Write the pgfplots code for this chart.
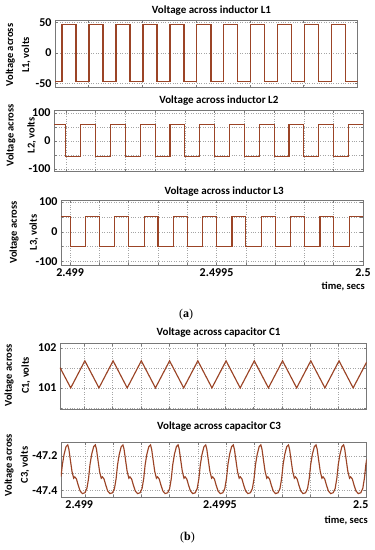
\documentclass[border=0pt]{standalone}
\usepackage{pgfplots}
\pgfplotsset{compat=1.18}
\usepackage{fontspec}
\setmainfont{Carlito}
\newfontfamily\seriffont{Liberation Serif}
\definecolor{wave}{RGB}{155,68,38}
\definecolor{framec}{RGB}{120,120,120}
\definecolor{gridc}{RGB}{165,165,165}
% x values: time in microseconds after t = 2.499 s (tick labels give the time in s)
\pgfplotsset{
  wv/.style={wave, line width=1.15pt, mark=none},
  panel/.style={
    scale only axis,
    anchor=south west,
    axis line style={framec, line width=0.6pt},
    grid=major,
    major grid style={gridc, dotted, line width=0.45pt},
    tick style={framec, line width=0.5pt},
    major tick length=2.5pt,
    tick align=inside,
    /pgf/number format/assume math mode=true,
    tick label style={font=\bfseries\fontsize{12}{13}\selectfont, text=black},
    title style={font=\bfseries\fontsize{11}{13}\selectfont, anchor=base, text=black},
    ylabel style={font=\bfseries\fontsize{10.5}{13}\selectfont, align=center, anchor=center, text=black},
    xlabel style={font=\bfseries\fontsize{10.5}{13}\selectfont, anchor=east, inner sep=0pt, text=black},
  }
}
\begin{document}
\begin{tikzpicture}
\useasboundingbox (0,0) rectangle (375pt,-550pt);

% ---------- L1 ----------
\begin{axis}[panel, at={(55pt,-87.3pt)}, width=302.7pt, height=67.3pt,
  xmin=-122, xmax=1000, ymin=-56, ymax=54,
  xtick={0,200,400,600,800,1000}, xticklabels={},
  ytick={-50,0,50},
  title={Voltage across inductor L1},
  title style={at={(axis description cs:0.517,1)}, yshift=0.5pt},
  ylabel={Voltage across\\[3pt]L1, volts},
  ylabel style={at={(axis description cs:-0.122,0.48)}},
]
\addplot[wv, const plot mark left] coordinates {
(-122,-46) (-96,47) (-44,-46) (4,47) (56,-46) (104,47) (156,-46) (204,47) (256,-46)
(304,47) (356,-46) (404,47) (456,-46) (504,47) (556,-46) (604,47) (656,-46) (704,47)
(756,-46) (804,47) (856,-46) (904,47) (956,-46) (1000,-46)};
\end{axis}

% ---------- L2 ----------
\begin{axis}[panel, at={(54pt,-171.7pt)}, width=309.3pt, height=61.7pt,
  xmin=-40, xmax=1000, ymin=-110, ymax=110,
  xtick={0,100,...,1000}, xticklabels={},
  ytick={-100,-50,0,50,100}, yticklabels={-100,,0,,100},
  title={Voltage across inductor L2},
  title style={at={(axis description cs:0.533,1)}, yshift=0.5pt},
  ylabel={Voltage across\\[8pt]L2, volts},
  ylabel style={at={(axis description cs:-0.106,0.59)}},
]
\addplot[wv, const plot mark left] coordinates {
(-40,57) (0,-57) (50,57) (100,-57) (150,57) (200,-57) (250,57) (300,-57) (350,57)
(400,-57) (450,57) (500,-57) (550,57) (600,-57) (650,57) (700,-57) (750,57) (800,-57)
(850,57) (900,-57) (950,57) (1000,57)};
\end{axis}

% ---------- L3 ----------
\begin{axis}[panel, at={(61pt,-265pt)}, width=302pt, height=65pt,
  xmin=-31, xmax=1000, ymin=-112, ymax=107,
  xtick={0,100,...,1000}, xticklabels={2.499,,,,,2.4995,,,,,2.5},
  ytick={-100,-50,0,50,100}, yticklabels={-100,,0,,100},
  title={Voltage across inductor L3},
  title style={at={(axis description cs:0.54,1)}, yshift=0pt},
  ylabel={Voltage across\\[7pt]L3, volts},
  ylabel style={at={(axis description cs:-0.123,0.5)}},
  xlabel={time, secs},
  xlabel style={at={(axis description cs:1,0)}, yshift=-21.7pt, xshift=2pt},
]
\addplot[wv, const plot mark left] coordinates {
(-31,52) (0,-51) (53,52) (100,-51) (153,52) (200,-51) (253,52) (300,-51) (353,52)
(400,-51) (453,52) (500,-51) (553,52) (600,-51) (653,52) (700,-51) (753,52) (800,-51)
(853,52) (900,-51) (953,52) (1000,52)};
\end{axis}

% ---------- C1 ----------
\begin{axis}[panel, at={(60pt,-409pt)}, width=306.7pt, height=65.7pt,
  xmin=-86, xmax=1000, ymin=100.47, ymax=102.12,
  xtick={0,100,...,1000}, xticklabels={},
  ytick={100.5,101,101.5,102}, yticklabels={,101,,102},
  title={Voltage across capacitor C1},
  title style={at={(axis description cs:0.517,1)}, yshift=2pt},
  ylabel={Voltage across\\[4pt]C1, volts},
  ylabel style={at={(axis description cs:-0.139,0.51)}},
]
\addplot[wv] coordinates {
(-86,101.51) (-48,101.0) (2,101.68) (52,101.0) (102,101.68) (152,101.0) (202,101.68)
(252,101.0) (302,101.68) (352,101.0) (402,101.68) (452,101.0) (502,101.68) (552,101.0)
(602,101.68) (652,101.0) (702,101.68) (752,101.0) (802,101.68) (852,101.0) (902,101.68)
(952,101.0) (1000,101.65)};
\end{axis}

% ---------- C3 ----------
\begin{axis}[panel, at={(61pt,-497pt)}, width=305.7pt, height=55pt,
  xmin=-86, xmax=1000, ymin=-47.44, ymax=-47.118,
  xtick={0,100,...,1000}, xticklabels={2.499,,,,,2.4995,,,,,2.5},
  xticklabel style={xshift=-6pt},
  ytick={-47.4,-47.3,-47.2}, yticklabels={-47.4,,-47.2},
  title={Voltage across capacitor C3},
  title style={at={(axis description cs:0.517,1)}, yshift=6.5pt},
  ylabel={Voltage across\\[3pt]C3, volts},
  ylabel style={at={(axis description cs:-0.144,0.58)}},
  xlabel={time, secs},
  xlabel style={at={(axis description cs:1,0)}, yshift=-23.7pt, xshift=1.3pt},
]
\addplot[wv] table {
x y
-86 -47.32
-81 -47.25
-75 -47.19
-68 -47.145
-62 -47.135
-58 -47.16
-53 -47.22
-47 -47.29
-41 -47.33
-37 -47.322
-31 -47.335
-25 -47.37
-18 -47.405
-10 -47.42
-1 -47.415
6 -47.39
12 -47.33
17 -47.25
23 -47.19
30 -47.145
36 -47.135
40 -47.16
45 -47.22
51 -47.29
57 -47.33
61 -47.322
67 -47.335
73 -47.37
80 -47.405
88 -47.42
97 -47.415
104 -47.39
110 -47.33
115 -47.25
121 -47.19
128 -47.145
134 -47.135
138 -47.16
143 -47.22
149 -47.29
155 -47.33
159 -47.322
165 -47.335
171 -47.37
178 -47.405
186 -47.42
195 -47.415
202 -47.39
208 -47.33
213 -47.25
219 -47.19
226 -47.145
232 -47.135
236 -47.16
241 -47.22
247 -47.29
253 -47.33
257 -47.322
263 -47.335
269 -47.37
276 -47.405
284 -47.42
293 -47.415
300 -47.39
306 -47.33
311 -47.25
317 -47.19
324 -47.145
330 -47.135
334 -47.16
339 -47.22
345 -47.29
351 -47.33
355 -47.322
361 -47.335
367 -47.37
374 -47.405
382 -47.42
391 -47.415
398 -47.39
404 -47.33
409 -47.25
415 -47.19
422 -47.145
428 -47.135
432 -47.16
437 -47.22
443 -47.29
449 -47.33
453 -47.322
459 -47.335
465 -47.37
472 -47.405
480 -47.42
489 -47.415
496 -47.39
502 -47.33
507 -47.25
513 -47.19
520 -47.145
526 -47.135
530 -47.16
535 -47.22
541 -47.29
547 -47.33
551 -47.322
557 -47.335
563 -47.37
570 -47.405
578 -47.42
587 -47.415
594 -47.39
600 -47.33
605 -47.25
611 -47.19
618 -47.145
624 -47.135
628 -47.16
633 -47.22
639 -47.29
645 -47.33
649 -47.322
655 -47.335
661 -47.37
668 -47.405
676 -47.42
685 -47.415
692 -47.39
698 -47.33
703 -47.25
709 -47.19
716 -47.145
722 -47.135
726 -47.16
731 -47.22
737 -47.29
743 -47.33
747 -47.322
753 -47.335
759 -47.37
766 -47.405
774 -47.42
783 -47.415
790 -47.39
796 -47.33
801 -47.25
807 -47.19
814 -47.145
820 -47.135
824 -47.16
829 -47.22
835 -47.29
841 -47.33
845 -47.322
851 -47.335
857 -47.37
864 -47.405
872 -47.42
881 -47.415
888 -47.39
894 -47.33
899 -47.25
905 -47.19
912 -47.145
918 -47.135
922 -47.16
927 -47.22
933 -47.29
939 -47.33
943 -47.322
949 -47.335
955 -47.37
962 -47.405
970 -47.42
979 -47.415
986 -47.39
992 -47.33
997 -47.25
1000 -47.22
};
\end{axis}

\node[font=\seriffont\fontsize{12}{14}\selectfont] at (186pt,-315pt) {(\textbf{a})};
\node[font=\seriffont\fontsize{12}{14}\selectfont] at (187.5pt,-538pt) {(\textbf{b})};
\end{tikzpicture}
\end{document}
